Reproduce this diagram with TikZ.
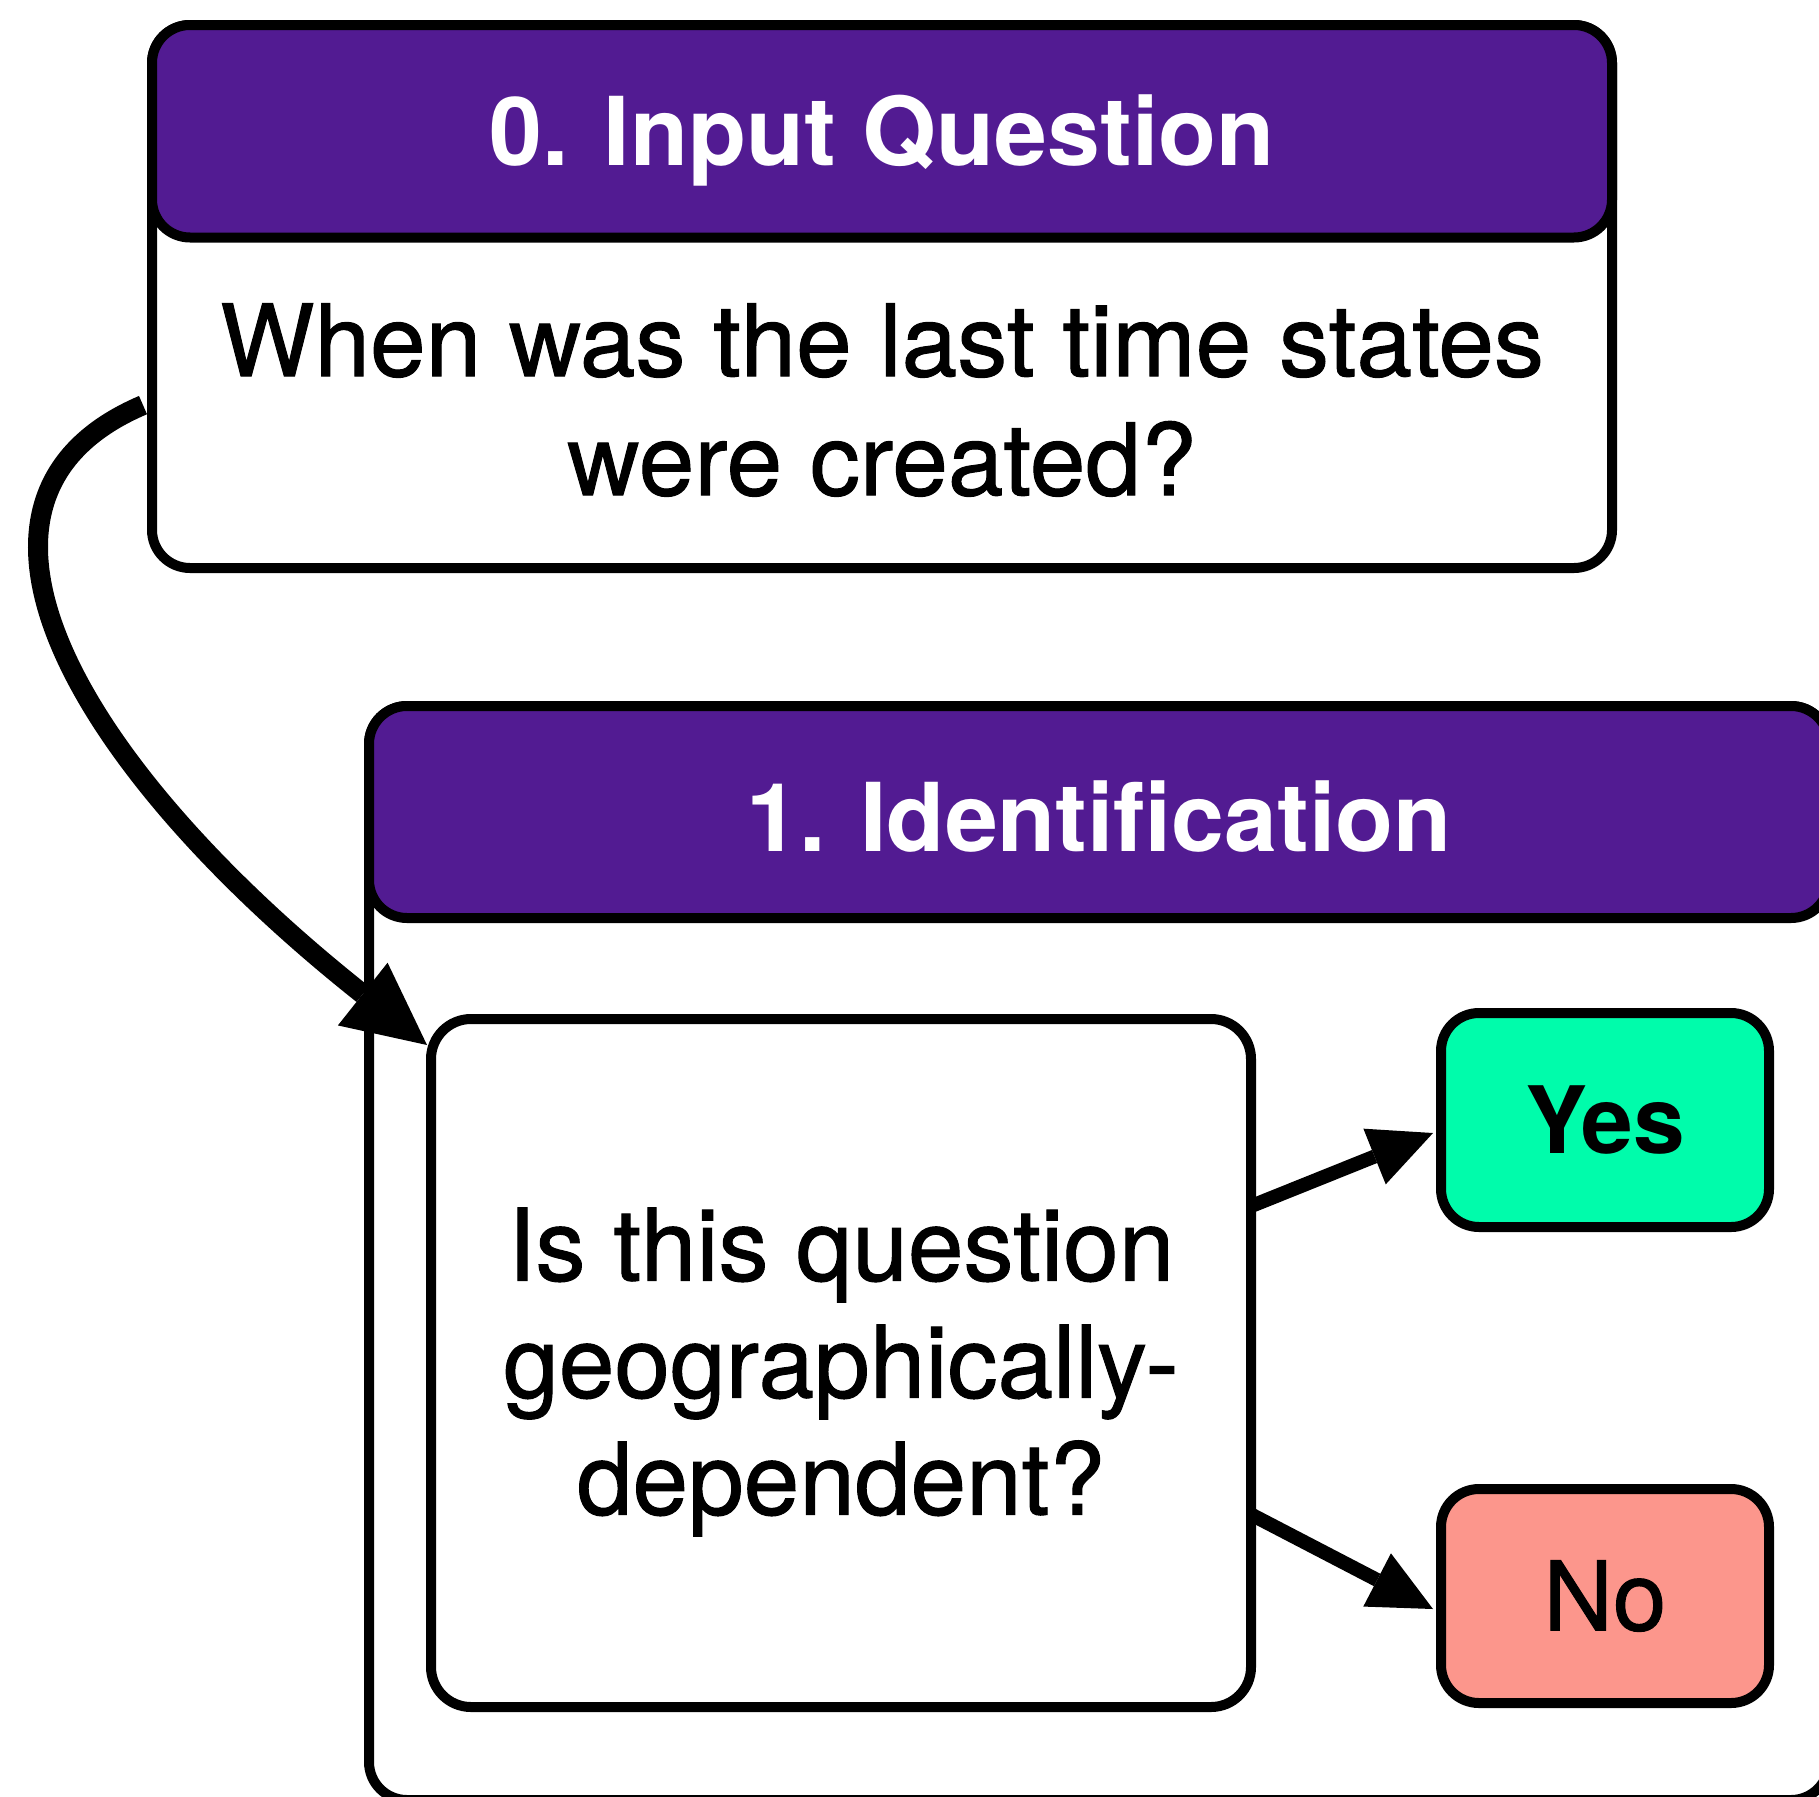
\documentclass[tikz,border=0pt]{standalone}
\usepackage{fontspec}
\setmainfont{TeX Gyre Heros}
\newfontfamily\medfont[FakeBold=1]{TeX Gyre Heros}
\usetikzlibrary{arrows.meta,calc}
\definecolor{hdrpurple}{HTML}{521B92}
\definecolor{yesgreen}{HTML}{00FCAB}
\definecolor{nored}{HTML}{FC968C}
\begin{document}
\begin{tikzpicture}[x=1pt,y=-1pt,
  frame/.style={rectangle, draw=black, line width=10pt, rounded corners=38pt, inner sep=0pt, outer sep=0pt},
  hdr/.style={frame, fill=hdrpurple},
  hdrtext/.style={text=white, inner sep=0pt, font=\fontsize{95pt}{114pt}\selectfont\bfseries},
  bodytext/.style={align=center, inner sep=0pt, font=\fontsize{100pt}{119pt}\selectfont\medfont},
  connector/.style={line width=14pt, -{Triangle[length=63pt,width=60pt,line width=0pt]}},
  bigconnector/.style={line width=20pt, -{Triangle[length=82pt,width=80pt,line width=0pt]}}
]
\useasboundingbox (0,0) rectangle (1819,1796);
\clip (0,0) rectangle (1819,1796);

% Box 0
\node[frame, fill=white, minimum width=1460pt, minimum height=543pt] (b0) at (882,296.5) {};
\node[hdr, minimum width=1460pt, minimum height=212.5pt] (h0) at (882,131.25) {};
\node[hdrtext] (h0t) at ($(h0.center)+(0,9)$) {0. Input Question};
\node[bodytext] (t0) at (882,400) {When was the last time states\\were created?};

% Box 1
\node[frame, fill=white, minimum width=1460pt, minimum height=1094pt] (b1) at (1099,1253) {};
\node[hdr, minimum width=1460pt, minimum height=212pt] (h1) at (1099,812) {};
\node[hdrtext] (h1t) at ($(h1.center)+(0,5)$) {1. Identification};

% Question box
\node[frame, fill=white, rounded corners=40pt, minimum width=820pt, minimum height=688pt] (q) at (841,1363) {};
\node[bodytext, font=\fontsize{100pt}{117pt}\selectfont\medfont] (qt) at ($(q.center)+(0,9)$)
      {Is this question\\geographically-\\dependent?};

% Answers
\node[frame, fill=yesgreen, minimum width=328pt, minimum height=214pt,
      font=\fontsize{93pt}{110pt}\selectfont\bfseries] (yes) at (1605,1120) {Yes};
\node[frame, fill=nored, minimum width=328pt, minimum height=214pt,
      font=\fontsize{96pt}{110pt}\selectfont\medfont] (no) at (1605,1596) {No};

% Connectors
\draw[connector] ($(q.north east)!0.272!(q.south east)$) -- ($(yes.west)+(-8,13)$);
\draw[connector] ($(q.north east)!0.72!(q.south east)$) -- ($(no.west)+(-8,13)$);
\draw[bigconnector] ($(b0.north west)!0.70!(b0.south west)+(-9,0)$)
   .. controls (-80,500) and (80,770) .. ($(q.north west)+(-4,26)$);
\end{tikzpicture}
\end{document}
